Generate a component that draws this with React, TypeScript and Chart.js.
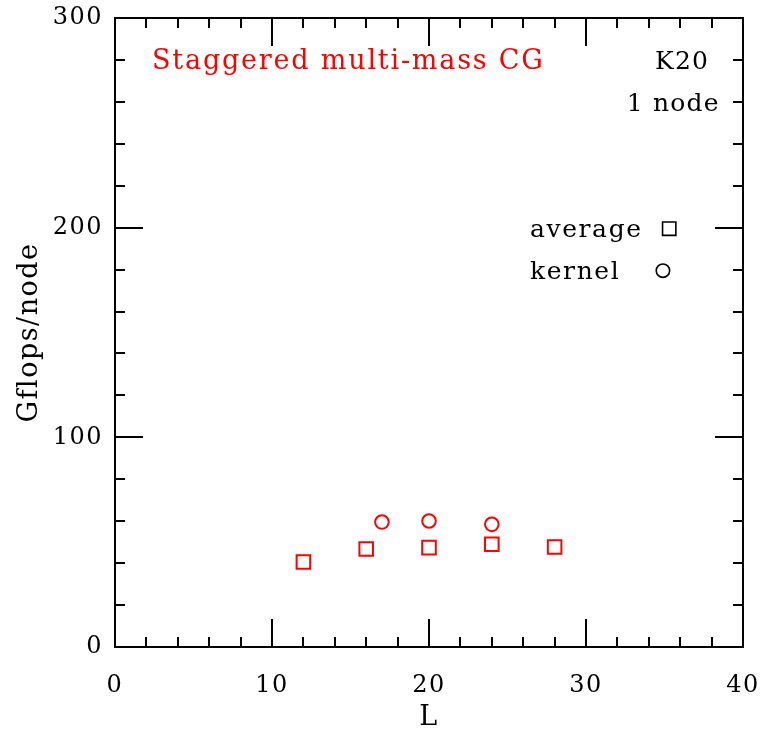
import React, { useEffect, useRef } from "react";
import { Chart, registerables } from "chart.js";

Chart.register(...registerables);

// Lattice size L and sustained performance (Gflops per node)
const averageL = [12, 16, 20, 24, 28];
const averageGflops = [40.5, 46.7, 47.4, 49.0, 47.7];
const kernelL = [17, 20, 24];
const kernelGflops = [59.6, 60.1, 58.5];

// Axis tick values
const xTicks = [0, 10, 20, 30, 40];
const yTicks = [0, 100, 200, 300];

// Legend keys placed inside the plot, in data units
const legendLabels = ["average", "kernel"];
const legendKeyL = [35.3, 34.9];
const legendKeyGflops = [199.5, 179.5];

const titleText = "Staggered multi-mass CG";
const infoLines = ["K20", "1 node"];

const FONT = '"DejaVu Serif", "Liberation Serif", serif';
const RED = "#ff0000";

// Inward major/minor ticks on all four sides plus the frame
const frameTicks = {
  id: "frameTicks",
  afterDatasetsDraw(chart: any) {
    const { ctx, chartArea: a, scales } = chart;
    const xs = scales.x;
    const ys = scales.y;
    ctx.save();
    ctx.strokeStyle = "#000";
    ctx.lineWidth = 2;
    ctx.beginPath();
    for (let v = 0; v <= 40; v += 2) {
      const px = Math.round(xs.getPixelForValue(v));
      const len = v % 10 === 0 ? 28 : 10;
      ctx.moveTo(px, a.bottom);
      ctx.lineTo(px, a.bottom - len);
      ctx.moveTo(px, a.top);
      ctx.lineTo(px, a.top + len);
    }
    for (let v = 0; v <= 300; v += 20) {
      const py = Math.round(ys.getPixelForValue(v));
      const len = v % 100 === 0 ? 28 : 10;
      ctx.moveTo(a.left, py);
      ctx.lineTo(a.left + len, py);
      ctx.moveTo(a.right, py);
      ctx.lineTo(a.right - len, py);
    }
    ctx.stroke();
    ctx.strokeRect(a.left, a.top, a.right - a.left, a.bottom - a.top);
    ctx.restore();
  },
};

// Spaced lettering for scale labels and titles
const letterSpacing = {
  id: "letterSpacing",
  beforeDraw(chart: any) {
    (chart.ctx as any).letterSpacing = "1.5px";
  },
  afterDraw(chart: any) {
    (chart.ctx as any).letterSpacing = "0px";
  },
};

// In-plot annotations: title, device info and legend labels
const annotations = {
  id: "annotations",
  afterDraw(chart: any) {
    const { ctx, scales } = chart;
    const xs = scales.x;
    const ys = scales.y;
    const put = (
      text: string,
      x: number,
      y: number,
      color: string,
      size: number,
      spacing: string
    ) => {
      ctx.save();
      (ctx as any).letterSpacing = spacing;
      ctx.font = `${size}px ${FONT}`;
      ctx.fillStyle = color;
      ctx.textAlign = "left";
      ctx.textBaseline = "alphabetic";
      ctx.fillText(text, xs.getPixelForValue(x), ys.getPixelForValue(y));
      ctx.restore();
    };
    put(titleText, 2.36, 275.5, RED, 27, "1.8px");
    put(infoLines[0], 34.4, 275.5, "#000", 25, "1.2px");
    put(infoLines[1], 32.6, 255.5, "#000", 25, "1.2px");
    put(legendLabels[0], 26.43, 195.5, "#000", 25, "1.6px");
    put(legendLabels[1], 26.43, 175.5, "#000", 25, "1.6px");
  },
};

// Keep the plot frame at fixed offsets regardless of label overhang
const noOverhang = (s: any) => {
  s.paddingTop = 0;
  s.paddingBottom = 0;
  s.paddingLeft = 0;
  s.paddingRight = 0;
};

export default function App() {
  const canvasRef = useRef<HTMLCanvasElement | null>(null);

  useEffect(() => {
    const canvas = canvasRef.current;
    if (!canvas) return;

    const tickFont = { family: FONT, size: 24 };
    const titleFont = { family: FONT, size: 27 };

    const chart = new Chart(canvas, {
      type: "scatter",
      data: {
        datasets: [
          {
            label: legendLabels[0],
            data: averageL.map((x, i) => ({ x, y: averageGflops[i] })),
            pointStyle: "rect",
            pointRadius: 9.6,
            pointBorderColor: RED,
            pointBackgroundColor: "rgba(0,0,0,0)",
            pointBorderWidth: 2,
            showLine: false,
          },
          {
            label: legendLabels[1],
            data: kernelL.map((x, i) => ({ x, y: kernelGflops[i] })),
            pointStyle: "circle",
            pointRadius: 6.8,
            pointBorderColor: RED,
            pointBackgroundColor: "rgba(0,0,0,0)",
            pointBorderWidth: 2,
            showLine: false,
          },
          {
            label: "keys",
            data: legendKeyL.map((x, i) => ({ x, y: legendKeyGflops[i] })),
            pointStyle: ["rect", "circle"],
            pointRadius: [9.4, 6.7],
            pointBorderColor: "#000",
            pointBackgroundColor: "rgba(0,0,0,0)",
            pointBorderWidth: 1.6,
            showLine: false,
          },
        ],
      },
      options: {
        responsive: false,
        animation: false,
        devicePixelRatio: 1,
        events: [],
        layout: { padding: { top: 18, right: 22, left: 0, bottom: 0 } },
        plugins: {
          legend: { display: false },
          tooltip: { enabled: false },
        },
        scales: {
          x: {
            type: "linear",
            min: 0,
            max: 40,
            afterBuildTicks: (s: any) => {
              s.ticks = xTicks.map((value) => ({ value }));
            },
            afterFit: (s: any) => {
              s.height = 85;
              noOverhang(s);
            },
            grid: { display: false, drawTicks: false },
            border: { display: false },
            ticks: {
              color: "#000",
              font: tickFont,
              padding: 24,
              maxRotation: 0,
              autoSkip: false,
            },
            title: {
              display: true,
              text: "L",
              color: "#000",
              font: titleFont,
              padding: { top: 0, bottom: -2 },
            },
          },
          y: {
            type: "linear",
            min: 0,
            max: 300,
            afterBuildTicks: (s: any) => {
              s.ticks = yTicks.map((value) => ({ value }));
            },
            afterFit: (s: any) => {
              s.width = 115;
              noOverhang(s);
            },
            grid: { display: false, drawTicks: false },
            border: { display: false },
            ticks: {
              color: "#000",
              font: tickFont,
              padding: 12,
              autoSkip: false,
            },
            title: {
              display: true,
              text: "Gflops/node",
              color: "#000",
              font: titleFont,
              padding: { top: 14, bottom: 0 },
            },
          },
        },
      },
      plugins: [letterSpacing, frameTicks, annotations],
    } as any);

    return () => chart.destroy();
  }, []);

  return (
    <div
      style={{
        position: "absolute",
        left: 0,
        top: 0,
        width: 765,
        height: 732,
        background: "#fff",
      }}
    >
      <canvas ref={canvasRef} width={765} height={732} />
    </div>
  );
}
